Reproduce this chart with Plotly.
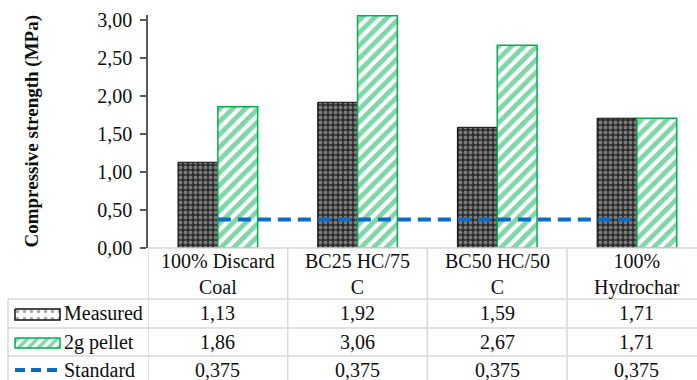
import plotly.graph_objects as go

# ---- data ----
categories = ["100% Discard Coal", "BC25 HC/75 C", "BC50 HC/50 C", "100% Hydrochar"]
header_labels = ["100% Discard<br>Coal", "BC25 HC/75<br>C", "BC50 HC/50<br>C", "100%<br>Hydrochar"]
measured = [1.13, 1.92, 1.59, 1.71]
pellet_2g = [1.86, 3.06, 2.67, 1.71]
standard = [0.375, 0.375, 0.375, 0.375]
series_names = ["Measured", "2g pellet", "Standard"]
y_ticks = [0, 0.5, 1.0, 1.5, 2.0, 2.5, 3.0]

W, H = 697, 380
FONT = "Liberation Serif, Times New Roman, serif"
TXT = "#0d0d0d"
GRID = "#d9d9d9"
BLUE = "#0a6cc4"
GREEN = "#00b050"

# pixel helpers -> paper coordinates (margins are zero, so paper = whole figure)
def px(x):
    return x / W

def py(y):
    return (H - y) / H

plot_left, plot_top, plot_bottom = 148, 15, 248

fig = go.Figure()

fig.add_trace(go.Bar(
    x=list(range(len(categories))), y=measured, name=series_names[0],
    marker=dict(color="#333333", line=dict(color="#111111", width=1),
                pattern=dict(shape=".", bgcolor="#2c2c2c", fgcolor="#c8c8c8",
                             size=5, solidity=0.45)),
    hovertext=categories,
))
fig.add_trace(go.Bar(
    x=list(range(len(categories))), y=pellet_2g, name=series_names[1],
    marker=dict(color="white", line=dict(color=GREEN, width=1.5),
                pattern=dict(shape="/", bgcolor="white", fgcolor=GREEN,
                             size=9, solidity=0.55)),
    hovertext=categories,
))
fig.add_trace(go.Scatter(
    x=list(range(len(categories))), y=standard, name=series_names[2],
    mode="lines", line=dict(color=BLUE, width=4, dash="13px,7px"),
))

# ---- legend keys inside the data table (second subplot spanning the figure in pixels) ----
def key_rect(x0, y0, x1, y1, line_color, pattern):
    fig.add_trace(go.Scatter(
        x=[x0, x1, x1, x0, x0], y=[y0, y0, y1, y1, y0],
        xaxis="x2", yaxis="y2", mode="lines", fill="toself",
        fillcolor="white", fillpattern=pattern,
        line=dict(color=line_color, width=1.5), showlegend=False, hoverinfo="skip",
    ))

key_rect(15, 309, 60, 320, "#111111",
         dict(shape=".", bgcolor="white", fgcolor="#555555", size=7, solidity=0.2))
key_rect(15, 338, 60, 348, GREEN,
         dict(shape="/", bgcolor="white", fgcolor=GREEN, size=7, solidity=0.5))
fig.add_trace(go.Scatter(
    x=[15, 60], y=[370, 370], xaxis="x2", yaxis="y2", mode="lines",
    line=dict(color=BLUE, width=4, dash="10px,6px"), showlegend=False, hoverinfo="skip",
))

# ---- table grid ----
shapes = []
def hline(y, x0, x1):
    shapes.append(dict(type="line", xref="paper", yref="paper",
                       x0=px(x0), x1=px(x1), y0=py(y), y1=py(y),
                       line=dict(color=GRID, width=1.5)))

def vline_data(xv, y0, y1):
    shapes.append(dict(type="line", xref="x", yref="paper",
                       x0=xv, x1=xv, y0=py(y0), y1=py(y1),
                       line=dict(color=GRID, width=1.5)))

hline(248, plot_left, W)
for yy in (299, 328, 356):
    hline(yy, 8, W)
shapes.append(dict(type="line", xref="paper", yref="paper",
                   x0=px(8), x1=px(8), y0=py(299), y1=py(H + 5),
                   line=dict(color=GRID, width=1.5)))
for xv in (-0.5, 0.5, 1.5, 2.5):
    vline_data(xv, 248, H + 5)

# ---- table text ----
annotations = []
def fmt(v, nd):
    return f"{v:.{nd}f}".replace(".", ",")

row_y = [313, 342, 370]
rows = [(measured, 2), (pellet_2g, 2), (standard, 3)]
for i, lab in enumerate(header_labels):
    annotations.append(dict(x=i, xref="x", y=py(274), yref="paper", text=lab,
                            showarrow=False, font=dict(family=FONT, size=20, color=TXT),
                            xanchor="center", yanchor="middle"))
    for (vals, nd), yy in zip(rows, row_y):
        annotations.append(dict(x=i, xref="x", y=py(yy), yref="paper", text=fmt(vals[i], nd),
                                showarrow=False, font=dict(family=FONT, size=20, color=TXT),
                                xanchor="center", yanchor="middle"))
for name, yy in zip(series_names, row_y):
    annotations.append(dict(x=px(62), xref="paper", y=py(yy), yref="paper", text=name,
                            showarrow=False, font=dict(family=FONT, size=20, color=TXT),
                            xanchor="left", yanchor="middle"))

annotations.append(dict(x=px(31), xref="paper", y=py((plot_top + plot_bottom) / 2), yref="paper",
                        text="<b>Compressive strength (MPa)</b>", textangle=-90,
                        showarrow=False, font=dict(family=FONT, size=19, color=TXT),
                        xanchor="center", yanchor="middle"))

fig.update_layout(
    width=W, height=H,
    margin=dict(l=0, r=0, t=0, b=0, pad=0, autoexpand=False),
    paper_bgcolor="white", plot_bgcolor="rgba(0,0,0,0)",
    separators=",.",
    barmode="group", bargap=0.43, bargroupgap=0,
    showlegend=False,
    shapes=shapes, annotations=annotations,
    xaxis=dict(domain=[px(plot_left), 1], range=[-0.5, 3.43], showticklabels=False,
               showgrid=False, zeroline=False, showline=False, ticks="", fixedrange=True,
               anchor="y", automargin=False),
    yaxis=dict(domain=[py(plot_bottom), py(plot_top)], range=[0, 3.07],
               tickvals=y_ticks, tickformat=".2f", showgrid=False, zeroline=False,
               showline=True, linecolor="#595959", linewidth=1.5,
               ticks="outside", ticklen=6, tickcolor="#595959", tickwidth=1.5,
               tickfont=dict(family=FONT, size=20, color=TXT), ticklabelstandoff=4,
               fixedrange=True, anchor="x", automargin=False),
    xaxis2=dict(domain=[0, 1], range=[0, W], visible=False, fixedrange=True, anchor="y2",
                automargin=False),
    yaxis2=dict(domain=[0, 1], range=[H, 0], visible=False, fixedrange=True, anchor="x2",
                automargin=False),
)

fig.write_html("out.html")
